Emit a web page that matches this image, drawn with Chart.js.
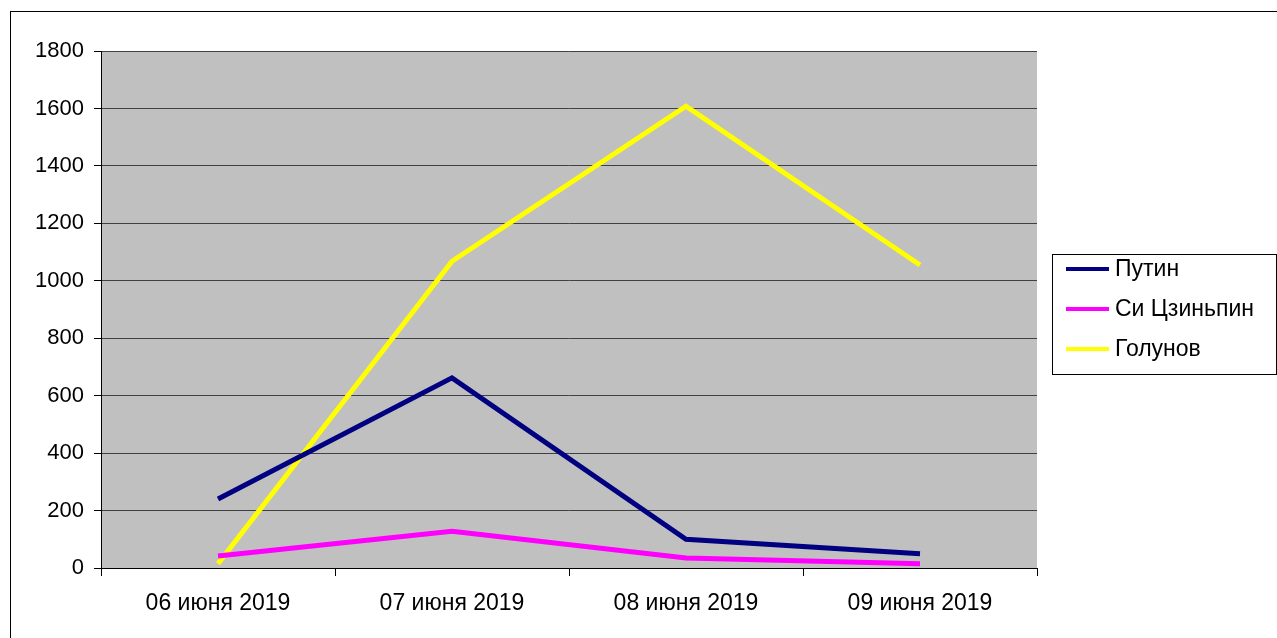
<!DOCTYPE html>
<html>
<head>
<meta charset="utf-8">
<script src="https://cdn.jsdelivr.net/npm/chart.js@4"></script>
<style>
  html, body { margin: 0; padding: 0; background: #fff; }
  #wrap { width: 1277px; height: 638px; }
</style>
</head>
<body>
<div id="wrap"><canvas id="myChart" width="1277" height="638"></canvas></div>
<script>
const labels = ['06 июня 2019', '07 июня 2019', '08 июня 2019', '09 июня 2019'];
const putin = [240, 662, 100, 50];
const xi = [42, 128, 35, 15];
const golunov = [15, 1068, 1608, 1055];
const seriesNames = ['Путин', 'Си Цзиньпин', 'Голунов'];
const seriesColors = ['#000080', '#FF00FF', '#FFFF00'];

const FONT = "'Liberation Sans', Arial, sans-serif";

// grey plot area + outer frame
const framePlugin = {
    id: 'frame',
    beforeDraw(chart) {
        const { ctx, chartArea: a } = chart;
        ctx.save();
        ctx.fillStyle = '#fff';
        ctx.fillRect(0, 0, chart.width, chart.height);
        ctx.fillStyle = '#C0C0C0';
        ctx.fillRect(a.left, a.top, a.right - a.left, a.bottom - a.top);
        ctx.strokeStyle = '#000';
        ctx.lineWidth = 1;
        ctx.strokeRect(10.5, 11.5, 1400, 800);
        ctx.restore();
    },
    afterDraw(chart) {
        // legend box on the right
        const ctx = chart.ctx;
        ctx.save();
        ctx.strokeStyle = '#000';
        ctx.lineWidth = 1;
        ctx.strokeRect(1052.5, 254.5, 224, 120);
        ctx.font = '23px ' + FONT;
        ctx.textBaseline = 'middle';
        ctx.fillStyle = '#000';
        chart.data.datasets.forEach((ds, i) => {
            const y = 269 + i * 40;
            ctx.strokeStyle = ds.borderColor;
            ctx.lineWidth = 4;
            ctx.beginPath();
            ctx.moveTo(1066, y);
            ctx.lineTo(1109, y);
            ctx.stroke();
            ctx.fillText(ds.label, 1115, y + 1);
        });
        ctx.restore();
    }
};

const ctx = document.getElementById('myChart').getContext('2d');
const myChart = new Chart(ctx, {
    type: 'line',
    data: {
        labels: labels,
        datasets: [putin, xi, golunov].map((d, i) => ({
            label: seriesNames[i],
            data: d,
            borderColor: seriesColors[i],
            backgroundColor: seriesColors[i],
            borderWidth: 5,
            pointRadius: 0,
            tension: 0,
            fill: false
        }))
    },
    options: {
        responsive: false,
        animation: false,
        layout: { padding: { left: 0, top: 51, right: 240, bottom: 0 } },
        plugins: {
            legend: { display: false },
            tooltip: { enabled: false }
        },
        scales: {
            x: {
                offset: true,
                grid: {
                    offset: true,
                    drawOnChartArea: false,
                    color: '#000',
                    tickLength: 8
                },
                border: { color: '#000', width: 1 },
                ticks: {
                    color: '#000',
                    font: { family: FONT, size: 23 },
                    padding: 14,
                    maxRotation: 0
                },
                afterFit(scale) { scale.height = 70; }
            },
            y: {
                min: 0,
                max: 1800,
                grid: {
                    color: '#404040',
                    tickLength: 7,
                    tickColor: '#000'
                },
                border: { color: '#000', width: 1 },
                ticks: {
                    stepSize: 200,
                    color: '#000',
                    font: { family: FONT, size: 22 },
                    padding: 10,
                    callback: (v) => String(v)
                },
                afterFit(scale) { scale.width = 101; }
            }
        }
    },
    plugins: [framePlugin]
});
</script>
</body>
</html>
